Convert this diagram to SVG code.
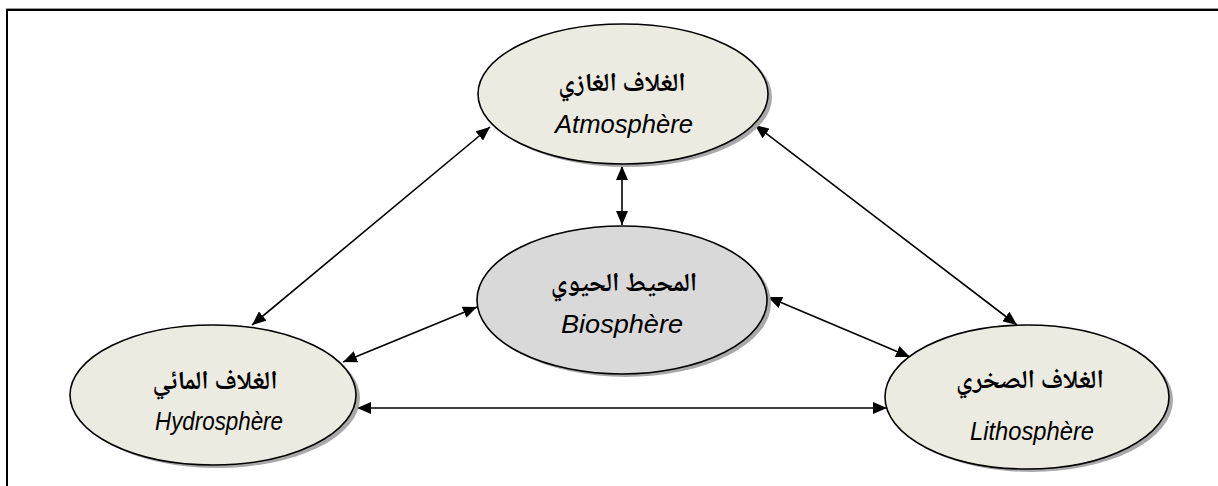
<svg xmlns="http://www.w3.org/2000/svg" width="1218" height="486" viewBox="0 0 1218 486">
  <style>
    .frame { fill: none; stroke: #000; stroke-width: 2; }
    .shadow { fill: #a9a9a9; }
    .sphere { fill: #ecebe1; stroke: #000; stroke-width: 1.6; }
    .bio { fill: #d9d9d9; stroke: #000; stroke-width: 1.6; }
    .ar { font-family: "Noto Naskh Arabic", "Noto Sans Arabic", "DejaVu Sans", sans-serif; font-weight: bold; font-size: 26px; text-anchor: middle; fill: #000; }
    .la { font-family: "Liberation Sans Narrow", "Liberation Sans", Arial, sans-serif; font-style: italic; font-size: 26px; text-anchor: middle; fill: #000; }
    .link { stroke: #000; stroke-width: 1.6; fill: none; marker-start: url(#head); marker-end: url(#head); }
  </style>
  <defs>
    <marker id="head" viewBox="0 0 14 12" refX="14" refY="6" markerWidth="14" markerHeight="12" markerUnits="userSpaceOnUse" orient="auto-start-reverse">
      <path d="M0,0 L14,6 L0,12 z" fill="#000"/>
    </marker>
  </defs>

  <rect width="1218" height="486" fill="#fff"/>
  <!-- page frame, open to the right and bottom -->
  <path d="M1220,8.5 H6" stroke="#999" stroke-width="1" fill="none"/>
  <path class="frame" d="M7,490 V10 H1220"/>

  <!-- connectors -->
  <g id="connectors">
    <line class="link" x1="490" y1="127" x2="252" y2="325"/>
    <line class="link" x1="755" y1="125" x2="1017" y2="325"/>
    <line class="link" x1="622" y1="166" x2="622" y2="225"/>
    <line class="link" x1="477" y1="307" x2="343" y2="362"/>
    <line class="link" x1="768" y1="297" x2="910" y2="357"/>
    <line class="link" x1="357" y1="408" x2="887" y2="408" stroke-width="2"/>
  </g>

  <g id="atmosphere">
    <ellipse class="shadow" cx="627" cy="97" rx="145" ry="70"/>
    <ellipse class="sphere" cx="623" cy="94" rx="145" ry="70"/>
    <text class="ar" x="622" y="91">الغلاف الغازي</text>
    <text class="la" x="624" y="133" textLength="138" lengthAdjust="spacingAndGlyphs">Atmosphère</text>
  </g>

  <g id="biosphere">
    <ellipse class="shadow" cx="626" cy="303" rx="145" ry="74"/>
    <ellipse class="bio" cx="622" cy="300" rx="145" ry="74"/>
    <text class="ar" x="624" y="291">المحيط الحيوي</text>
    <text class="la" x="622" y="333" textLength="122" lengthAdjust="spacingAndGlyphs">Biosphère</text>
  </g>

  <g id="hydrosphere">
    <ellipse class="shadow" cx="217" cy="398" rx="143" ry="70"/>
    <ellipse class="sphere" cx="213" cy="395" rx="143" ry="70"/>
    <text class="ar" x="215" y="389">الغلاف المائي</text>
    <text class="la" x="219" y="430" textLength="128" lengthAdjust="spacingAndGlyphs">Hydrosphère</text>
  </g>

  <g id="lithosphere">
    <ellipse class="shadow" cx="1031" cy="400" rx="142" ry="72"/>
    <ellipse class="sphere" cx="1027" cy="397" rx="142" ry="72"/>
    <text class="ar" x="1030" y="388">الغلاف الصخري</text>
    <text class="la" x="1032" y="440" textLength="124" lengthAdjust="spacingAndGlyphs">Lithosphère</text>
  </g>
</svg>
